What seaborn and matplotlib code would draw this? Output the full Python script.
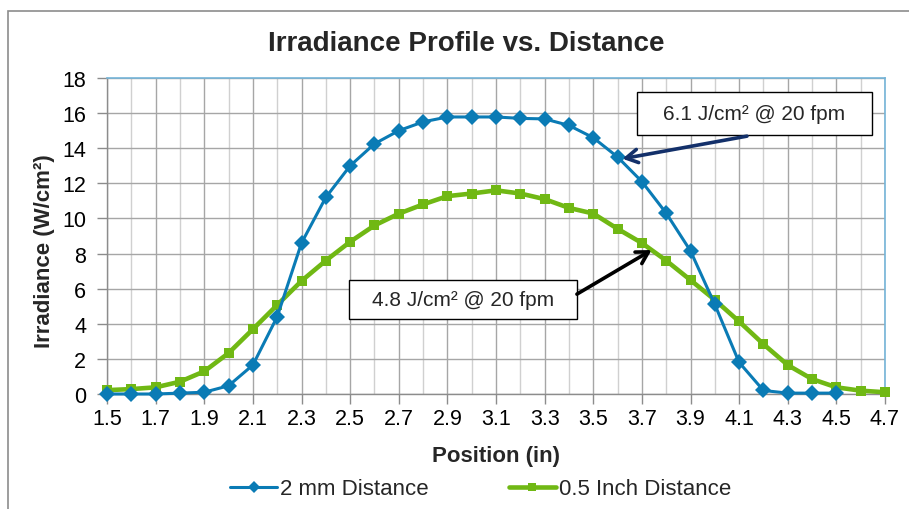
import numpy as np
import pandas as pd
import matplotlib
matplotlib.use("Agg")
import matplotlib.pyplot as plt
import seaborn as sns
from matplotlib.patches import Rectangle
from matplotlib.ticker import FixedLocator, MultipleLocator

# ---- data ----
pos_2mm = [1.5, 1.6, 1.7, 1.8, 1.9, 2.0, 2.1, 2.2, 2.3, 2.4, 2.5, 2.6, 2.7, 2.8, 2.9, 3.0,
           3.1, 3.2, 3.3, 3.4, 3.5, 3.6, 3.7, 3.8, 3.9, 4.0, 4.1, 4.2, 4.3, 4.4, 4.5]
irr_2mm = [0.0, 0.0, 0.0, 0.05, 0.1, 0.47, 1.65, 4.4, 8.6, 11.2, 13.0, 14.25, 15.0, 15.5, 15.78, 15.78,
           15.78, 15.7, 15.67, 15.3, 14.6, 13.5, 12.1, 10.3, 8.15, 5.1, 1.8, 0.2, 0.05, 0.05, 0.05]

pos_half = [1.5, 1.6, 1.7, 1.8, 1.9, 2.0, 2.1, 2.2, 2.3, 2.4, 2.5, 2.6, 2.7, 2.8, 2.9, 3.0, 3.1,
            3.2, 3.3, 3.4, 3.5, 3.6, 3.7, 3.8, 3.9, 4.0, 4.1, 4.2, 4.3, 4.4, 4.5, 4.6, 4.7]
irr_half = [0.22, 0.28, 0.38, 0.7, 1.29, 2.33, 3.69, 5.07, 6.44, 7.6, 8.67, 9.6, 10.27, 10.8, 11.27, 11.42, 11.6,
            11.42, 11.1, 10.6, 10.28, 9.41, 8.6, 7.6, 6.49, 5.36, 4.13, 2.84, 1.65, 0.85, 0.38, 0.19, 0.1]

x_major_ticks = [1.5, 1.7, 1.9, 2.1, 2.3, 2.5, 2.7, 2.9, 3.1, 3.3, 3.5, 3.7, 3.9, 4.1, 4.3, 4.5, 4.7]
x_tick_labels = ["1.5", "1.7", "1.9", "2.1", "2.3", "2.5", "2.7", "2.9", "3.1", "3.3", "3.5",
                 "3.7", "3.9", "4.1", "4.3", "4.5", "4.7"]
x_minor_ticks = [1.6, 1.8, 2.0, 2.2, 2.4, 2.6, 2.8, 3.0, 3.2, 3.4, 3.6, 3.8, 4.0, 4.2, 4.4, 4.6]

series_names = ["2 mm Distance", "0.5 Inch Distance"]
title = "Irradiance Profile vs. Distance"
xlabel = "Position (in)"
ylabel = "Irradiance (W/cm²)"
note1 = "6.1 J/cm² @ 20 fpm"
note2 = "4.8 J/cm² @ 20 fpm"
note1_xy = (3.62, 13.4)
note2_xy = (3.74, 8.2)

BLUE = "#0A7BB5"
GREEN = "#70B814"

sns.set_theme(style="white")
plt.rcParams["font.family"] = ["Liberation Sans", "DejaVu Sans"]

fig = plt.figure(figsize=(9.09, 5.10), dpi=100)
ax = fig.add_axes([107/909, 1-395/510, 778/909, 316/510])

# outer chart frame
fig.patches.append(Rectangle((8/909, -0.05), 1.2, 1-12/510+0.05, transform=fig.transFigure,
                             fill=False, edgecolor="#8C8C8C", linewidth=1.2))

df1 = pd.DataFrame({"pos": pos_2mm, "irr": irr_2mm})
df2 = pd.DataFrame({"pos": pos_half, "irr": irr_half})

sns.lineplot(data=df1, x="pos", y="irr", ax=ax, color=BLUE, lw=2.2, marker="D",
             markersize=8, markeredgewidth=0, label=series_names[0], clip_on=False, zorder=4)
sns.lineplot(data=df2, x="pos", y="irr", ax=ax, color=GREEN, lw=3.3, marker="s",
             markersize=7.5, markeredgewidth=0, label=series_names[1], clip_on=False, zorder=3)

ax.set_xlim(1.5, 4.7)
ax.set_ylim(0, 18)
ax.xaxis.set_major_locator(FixedLocator(x_major_ticks))
ax.xaxis.set_minor_locator(FixedLocator(x_minor_ticks))
ax.set_xticklabels(x_tick_labels)
ax.yaxis.set_major_locator(MultipleLocator(2))
ax.set_xlim(1.5, 4.7)

ax.grid(True, which="major", axis="both", color="#A6A6A6", lw=1.0)
ax.grid(True, which="minor", axis="x", color="#D0D0D0", lw=1.0)
ax.set_axisbelow(True)

ax.tick_params(axis="both", which="major", labelsize=15.5, colors="#000000", length=7,
               width=1, direction="out", pad=3, color="#8C8C8C")
ax.tick_params(axis="y", which="major", pad=8)
ax.tick_params(axis="x", which="minor", length=0)
ax.tick_params(left=True, bottom=True)

for s in ["left", "bottom"]:
    ax.spines[s].set_color("#8C8C8C")
    ax.spines[s].set_linewidth(1.0)
for s in ["top", "right"]:
    ax.spines[s].set_color("#74B4D8")
    ax.spines[s].set_linewidth(1.2)

ax.set_xlabel(xlabel, fontsize=16, fontweight="bold")
ax.set_ylabel(ylabel, fontsize=16, fontweight="bold")
ax.xaxis.set_label_coords(0.5, (395-446)/316)
ax.yaxis.set_label_coords((55-107)/778, 0.456)
fig.text(0.513, 1-44/510, title, ha="center", va="center", fontsize=20, fontweight="bold")

# annotation boxes
def box(cx, cy, w, h, text):
    ax.add_patch(Rectangle((cx - w/2, cy - h/2), w, h, transform=ax.transAxes,
                           facecolor="white", edgecolor="#000000", lw=1.0, zorder=6, clip_on=False))
    ax.text(cx, cy, text, transform=ax.transAxes, ha="center", va="center", fontsize=15, zorder=7)

box(0.832, 0.888, 235/778, 43/316, note1)
box(0.4576, 0.299, 228/778, 39/316, note2)

ax.annotate("", xy=note1_xy, xycoords="data", xytext=(0.8226, 0.816), textcoords="axes fraction",
            arrowprops=dict(arrowstyle="->,head_length=0.7,head_width=0.4", lw=2.6, color="#13306A",
                            shrinkA=0, shrinkB=0), zorder=8)
ax.annotate("", xy=note2_xy, xycoords="data", xytext=(0.604, 0.316), textcoords="axes fraction",
            arrowprops=dict(arrowstyle="->,head_length=0.7,head_width=0.4", lw=2.6, color="#000000",
                            shrinkA=0, shrinkB=0), zorder=8)

handles, labels = ax.get_legend_handles_labels()
ax.get_legend().remove()
fig.legend(handles, labels, loc="center", bbox_to_anchor=(0.529, 1-490/510), ncol=2, frameon=False,
           fontsize=16, handlelength=2.1, columnspacing=3.6, handletextpad=0.15, markerscale=0.8)

fig.savefig("out.png", dpi=100)
